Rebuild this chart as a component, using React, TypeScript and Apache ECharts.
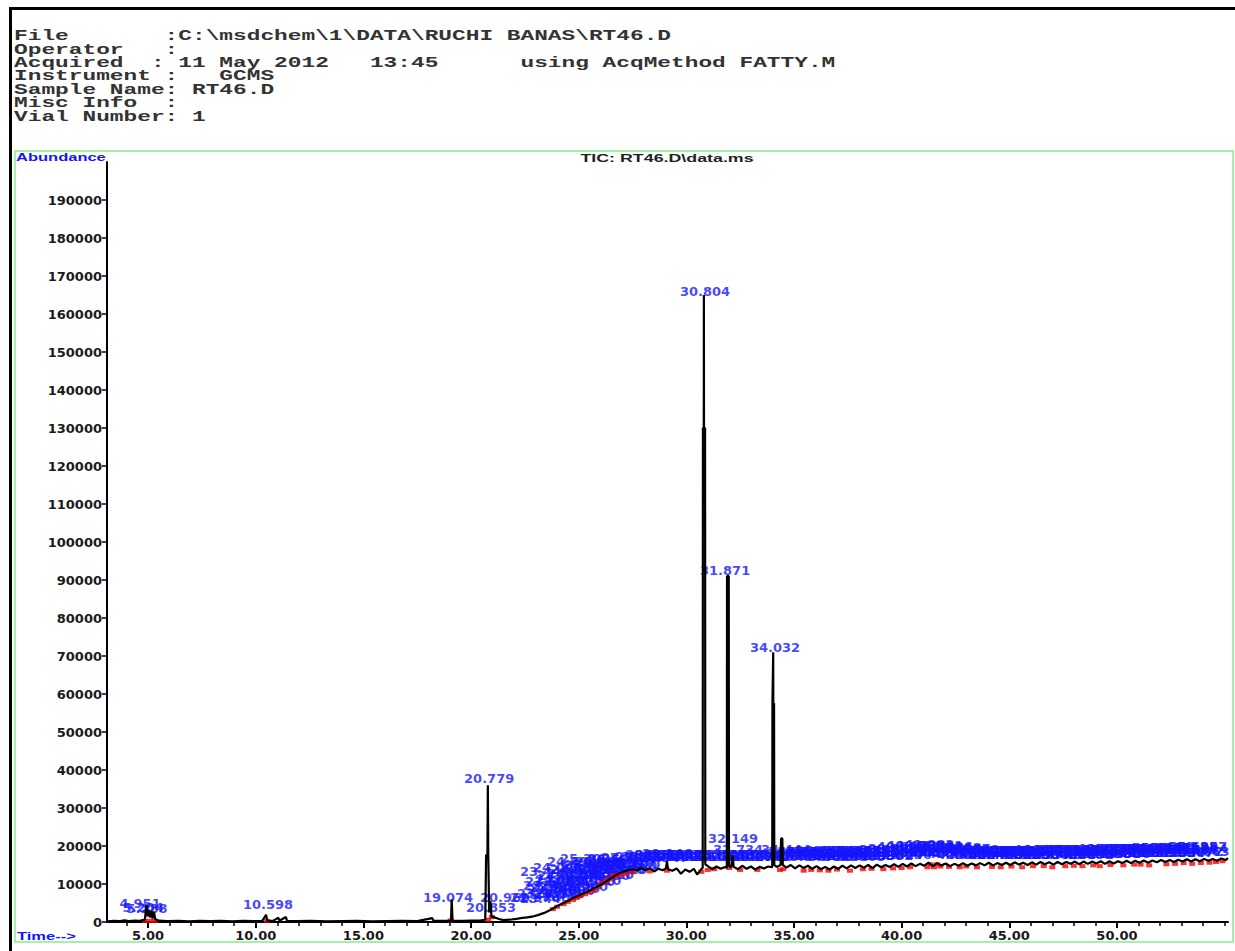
import React, { useEffect, useRef } from "react";
import * as echarts from "echarts";

const headerLines = [
  "File       :C:\\msdchem\\1\\DATA\\RUCHI BANAS\\RT46.D",
  "Operator   :",
  "Acquired  : 11 May 2012   13:45      using AcqMethod FATTY.M",
  "Instrument :   GCMS",
  "Sample Name: RT46.D",
  "Misc Info  :",
  "Vial Number: 1",
];

const chartTitle = "TIC: RT46.D\\data.ms";
const yAxisName = "Abundance";
const xAxisName = "Time-->";

const xMin = 3.09;
const xMax = 55.16;
const yMax = 200000;
const xMajorTicks = [5, 10, 15, 20, 25, 30, 35, 40, 45, 50];
const xMinorTicks = [4, 5, 6, 7, 8, 9, 10, 11, 12, 13, 14, 15, 16, 17, 18, 19, 20, 21, 22, 23, 24, 25, 26, 27, 28, 29, 30, 31, 32, 33, 34, 35, 36, 37, 38, 39, 40, 41, 42, 43, 44, 45, 46, 47, 48, 49, 50, 51, 52, 53, 54, 55];
const yTicks = [0, 10000, 20000, 30000, 40000, 50000, 60000, 70000, 80000, 90000, 100000, 110000, 120000, 130000, 140000, 150000, 160000, 170000, 180000, 190000];

// Total ion chromatogram [time (min), abundance]
const ticTrace: [number, number][] = [
  [3.09, 200], [3.4, 300], [3.7, 250], [3.9, 450], [4.1, 250], [4.4, 350], [4.6, 300], [4.85, 600], [4.92, 4500], [4.97, 1500],
  [5.02, 3200], [5.08, 1200], [5.15, 2900], [5.2, 900], [5.27, 2700], [5.33, 700], [5.5, 350], [5.9, 250], [6.4, 300], [6.9, 200],
  [7.4, 300], [7.9, 250], [8.4, 300], [8.9, 200], [9.4, 300], [9.9, 250], [10.3, 300], [10.48, 1900], [10.53, 400], [10.8, 300],
  [11.05, 1100], [11.1, 350], [11.4, 1300], [11.45, 300], [11.9, 250], [12.6, 300], [13.3, 200], [14.0, 250], [14.7, 300], [15.4, 200],
  [16.1, 250], [16.8, 300], [17.5, 250], [18.2, 1000], [18.26, 300], [18.7, 300], [19.07, 300], [19.1, 6000], [19.14, 400], [19.6, 300],
  [20.0, 350], [20.4, 400], [20.66, 600], [20.7, 17600], [20.76, 17600], [20.78, 36000], [20.8, 17600], [20.84, 2500], [20.9, 5500], [20.95, 1400],
  [21.1, 1200], [21.3, 800], [21.5, 500], [21.8, 600], [22.1, 800], [22.3, 1000], [22.6, 1200], [22.9, 1500], [23.1, 1800], [23.4, 2400],
  [23.7, 3200], [24.0, 4200], [24.3, 5000], [24.55, 5700], [24.75, 6300], [25.0, 7000], [25.2, 7500], [25.4, 7900], [25.7, 8900], [26.0, 9700],
  [26.25, 10600], [26.5, 11500], [26.7, 12200], [26.9, 12900], [27.2, 13500], [27.5, 13900], [27.7, 13500], [27.9, 14200], [28.1, 13600], [28.3, 14100],
  [28.5, 13300], [28.7, 14000], [28.9, 13600], [29.05, 14100], [29.1, 16000], [29.15, 13900], [29.35, 13500], [29.55, 14100], [29.75, 12700], [29.95, 13800],
  [30.15, 13200], [30.35, 14000], [30.5, 12500], [30.65, 13600], [30.76, 14300], [30.77, 130000], [30.81, 130000], [30.815, 165000], [30.82, 130000], [30.87, 130000],
  [30.88, 15200], [31.0, 14700], [31.2, 13900], [31.4, 14600], [31.6, 14000], [31.8, 14500], [31.88, 14200], [31.89, 91000], [31.97, 91000], [31.98, 14800],
  [32.08, 14400], [32.15, 17500], [32.2, 14500], [32.4, 13900], [32.6, 14800], [32.8, 14000], [33.0, 14600], [33.2, 13800], [33.4, 14500],
  [33.6, 14100], [33.8, 14600], [33.99, 14400], [34.0, 57500], [34.03, 57500], [34.035, 71000], [34.04, 57500], [34.075, 57500], [34.085, 15000], [34.2, 14500],
  [34.38, 15000], [34.4, 22000], [34.46, 22000], [34.48, 15000], [34.65, 14300], [34.85, 15000], [35.05, 14100], [35.25, 14900], [35.45, 14200], [35.65, 14800],
  [35.85, 14000], [36.05, 14700], [36.25, 13900], [36.45, 14500], [36.65, 13800], [36.85, 14600], [37.05, 14000], [37.25, 14800], [37.45, 14100], [37.65, 14900],
  [37.85, 14200], [38.05, 14900], [38.25, 14300], [38.45, 15000], [38.65, 14200], [38.85, 15100], [39.05, 14400], [39.25, 15000], [39.45, 14500], [39.65, 15200],
  [39.85, 14500], [40.05, 15300], [40.25, 14600], [40.45, 15400], [40.65, 14700], [40.85, 15300], [41.05, 14800], [41.25, 15600], [41.45, 14700], [41.65, 15500],
  [41.85, 14900], [42.05, 15400], [42.25, 14700], [42.45, 15300], [42.65, 14800], [42.85, 15500], [43.05, 14800], [43.25, 15400], [43.45, 14900], [43.65, 15500],
  [43.85, 14900], [44.05, 15600], [44.25, 14900], [44.45, 15500], [44.65, 15000], [44.85, 15600], [45.05, 15000], [45.25, 15700], [45.45, 15100], [45.65, 15600],
  [45.85, 15000], [46.05, 15700], [46.25, 15100], [46.45, 15800], [46.65, 15200], [46.85, 15700], [47.05, 15100], [47.25, 15800], [47.45, 15200], [47.65, 15800],
  [47.85, 15300], [48.05, 15900], [48.25, 15200], [48.45, 15900], [48.65, 15300], [48.85, 15900], [49.05, 15400], [49.25, 16000], [49.45, 15300], [49.65, 16000],
  [49.85, 15400], [50.05, 16000], [50.25, 15500], [50.45, 16100], [50.65, 15500], [50.85, 16100], [51.05, 15600], [51.25, 16200], [51.45, 15600], [51.65, 16200],
  [51.85, 15700], [52.05, 16300], [52.25, 15800], [52.45, 16300], [52.65, 15800], [52.85, 16400], [53.05, 15900], [53.25, 16500], [53.45, 15900], [53.65, 16500],
  [53.85, 16000], [54.05, 16600], [54.25, 16100], [54.45, 16600], [54.65, 16100], [54.85, 16700], [55.05, 16300], [55.16, 16800],
];

// Legible peak labels: [label anchor time, label anchor abundance, text]
const peakLabels: [number, number, string][] = [
  [4.63, 2900, "4.951"], [4.77, 1800, "5.204"], [4.95, 1600, "5.288"], [10.57, 2600, "10.598"],
  [18.93, 4500, "19.074"], [21.58, 4500, "20.960"], [20.93, 1800, "20.853"], [20.84, 35800, "20.779"],
  [29.11, 16000, "29.146"], [30.87, 164000, "30.804"], [31.80, 90500, "31.871"], [32.17, 20000, "32.149"],
  [32.40, 17100, "32.734"], [34.63, 17100, "34.444"], [34.12, 70300, "34.032"],
];

// Crowded minor-peak labels (retention time, label anchor abundance)
const minorPeakTimes = [
  23.44, 24.04, 24.60, 25.20, 25.81, 26.41, 27.02, 27.62,
  23.67, 24.23, 24.83, 25.44, 25.99, 26.60, 27.20, 27.85,
  23.90, 24.51, 25.07, 25.62, 26.23, 26.83,
  23.30, 23.76, 24.37, 24.97, 25.53, 26.13, 26.74, 27.34,
  23.44, 24.04, 24.69, 25.30,
  22.97, 23.58, 24.14, 24.69, 25.30, 25.90, 26.55, 24.14, 24.83, 25.53, 26.23, 26.92, 27.48,
  28.114, 28.562, 28.947, 29.389, 29.801, 30.236, 31.105, 31.516, 32.402, 32.867, 33.294, 33.711, 34.695, 35.103, 35.548, 35.962,
  36.401, 36.829, 37.244, 37.687, 38.105, 38.533, 38.958, 39.372, 39.814, 40.236, 40.661, 41.087, 41.509, 41.932, 42.355, 42.781,
  43.198, 43.624, 44.047, 44.466, 44.893, 45.312, 45.739, 46.158, 46.584, 47.003, 47.427, 47.851, 48.274, 48.692, 49.118, 49.543,
  49.961, 50.386, 50.812, 51.234, 51.657, 52.079, 52.503, 52.928, 53.347, 53.772, 54.063,
  28.331, 28.752, 29.164, 29.597, 30.018, 30.452, 31.311, 31.728, 32.614, 33.078, 33.502, 33.914,
  34.884, 35.326, 35.757, 36.183, 36.612, 37.036, 37.463, 37.894, 38.318, 38.741, 39.166, 39.589,
  40.027, 40.449, 40.874, 41.296, 41.718, 42.143, 42.568, 42.992,
  43.411, 43.836, 44.257, 44.681, 45.104, 45.527, 45.948, 46.371, 46.795, 47.215, 47.639, 48.062, 48.483, 48.905, 49.331, 49.752,
  50.174, 50.598, 51.023, 51.446, 51.869, 52.291, 52.716, 53.138, 53.561, 53.984,
  34.962, 35.381, 35.804, 36.217, 36.643, 37.061, 37.486, 37.902, 38.327, 38.748, 39.169, 39.593, 40.012, 40.438, 40.857, 41.283,
  41.701, 42.126, 42.548, 42.967, 43.392, 43.811, 44.236, 44.657, 45.081, 45.503, 45.926, 46.347, 46.772, 47.191, 47.616, 48.038,
  48.461, 48.883, 49.307, 49.729, 50.154, 50.576, 50.998, 51.421, 51.846, 52.267, 52.691, 53.113, 53.538, 53.957,
];
const minorPeakAbund = [
  4200, 5300, 6300, 7400, 9000, 10600, 11900, 13200,
  8700, 10300, 11900, 13200, 14000, 14800, 15000, 15300,
  7100, 8700, 10000, 11100, 12400, 13400,
  5500, 6600, 7600, 9200, 10500, 11800, 12900, 13700,
  11300, 12400, 13900, 14700,
  4500, 7600, 9200, 10800, 12400, 13400, 14500, 5500, 6800, 8700, 10300, 11800, 12900,
  15200, 15300, 15100, 15300, 15200, 15300, 15200, 15300, 15200, 15300, 15200, 15300, 15400, 15400, 15300, 15400,
  15400, 15300, 15400, 15400, 15300, 15400, 15500, 15500, 15700, 15800, 16200, 16600, 16700, 16500, 16100, 15900,
  15800, 15800, 15700, 15800, 15800, 15800, 15700, 15800, 15800, 15900, 15900, 15900, 16000, 15900, 16000, 16000,
  16100, 16100, 16200, 16200, 16300, 16300, 16300, 16400, 16400, 16500, 16500,
  15800, 15700, 15800, 15700, 15800, 15700, 15800, 15700, 15800, 15700, 15800, 15700,
  16000, 16100, 16000, 16100, 16100, 16200, 16100, 16200, 16200, 16300, 16300, 16400,
  16700, 17000, 17300, 17500, 17600, 17300, 17000, 16800,
  16500, 16400, 16400, 16500, 16400, 16500, 16500, 16500, 16600, 16600, 16600, 16700, 16600, 16700, 16700, 16800,
  16800, 16900, 16900, 17000, 17000, 17100, 17100, 17200, 17200, 17300,
  16600, 16700, 16700, 16800, 16700, 16800, 16800, 16900, 16800, 16900, 17000, 17300, 17800, 18100, 18200, 18300,
  18200, 17900, 17600, 17300, 17100, 16900, 16900, 16800, 16900, 16900, 16900, 17000, 17000, 17100, 17100, 17100,
  17200, 17200, 17300, 17300, 17400, 17400, 17500, 17500, 17600, 17600, 17700, 17700, 17800, 17800,
];

// Red integration marks [time, abundance]
const integrationMarks: [number, number][] = [
  [4.85, 300], [5.08, 300], [5.32, 300], [10.53, 300], [19.05, 400], [20.8, 600], [20.97, 1300],
  [23.8, 3400], [24.0, 4000], [24.3, 4700], [24.5, 5300], [24.74, 5800], [24.9, 6300], [25.07, 6800], [25.3, 7300], [25.5, 7900],
  [25.67, 8400], [25.9, 9200], [26.05, 10200], [26.2, 10400], [26.32, 11000], [26.45, 11200], [26.6, 12300], [26.75, 12000],
  [26.9, 12600], [27.15, 12600], [27.5, 13100], [28.3, 13300], [29.1, 13500], [30.7, 13200], [31.0, 13700], [31.3, 13900],
  [32.0, 14200], [32.5, 13700], [33.3, 13700], [34.35, 13700], [34.5, 13900], [35.45, 13500], [35.8, 13700], [36.2, 13600],
  [36.6, 13500], [37.0, 13800], [37.6, 13500], [38.2, 13900], [38.6, 14000], [39.15, 13900], [39.6, 14100], [40.0, 14200],
  [40.4, 14400], [41.2, 14400], [41.35, 15200], [41.5, 14400], [41.65, 15200], [41.8, 14600], [42.2, 14500], [42.7, 14400],
  [43.0, 14600], [43.5, 14400], [44.2, 14500], [44.6, 14400], [45.1, 14600], [45.6, 14400], [46.1, 14700], [46.6, 14700],
  [47.0, 14400], [47.6, 14700], [48.0, 14800], [48.4, 14700], [48.9, 14900], [49.2, 14700], [49.7, 15000], [50.3, 14900],
  [50.8, 15100], [51.1, 15100], [51.5, 14900], [52.3, 15200], [52.7, 15300], [53.1, 15500], [53.5, 15300], [53.9, 15500],
  [54.3, 15600], [54.6, 15800], [54.9, 16000],
];

const BLUE = "#1414ff";
const LABEL_FONT = "DejaVu Sans";

export default function App() {
  const ref = useRef<HTMLDivElement>(null);
  useEffect(() => {
    if (!ref.current) return;
    const chart = echarts.init(ref.current, null, { renderer: "svg" });

    const labelData = [
      ...minorPeakTimes.map((t, i) => ({ value: [t, minorPeakAbund[i]], name: t.toFixed(3) })),
      ...peakLabels.map(([t, a, s]) => ({ value: [t, a], name: s })),
    ];

    const headerGraphics = headerLines.map((line, i) => ({
      type: "text",
      x: 14,
      y: 36.5 + i * 13.4,
      scaleX: 1.63,
      silent: true,
      style: {
        text: line,
        fontFamily: "Liberation Mono",
        fontSize: 14,
        fontWeight: "bold",
        fill: "#333",
        align: "left",
        verticalAlign: "middle",
      },
    }));

    chart.setOption({
      animation: false,
      backgroundColor: "#ffffff",
      grid: { left: 107, right: 7, top: 162, bottom: 29, containLabel: false },
      xAxis: [
        {
          type: "value",
          min: xMin,
          max: xMax,
          position: "bottom",
          axisLine: { show: true, lineStyle: { color: "#000", width: 2 } },
          axisTick: { show: true, customValues: xMinorTicks, length: 4, lineStyle: { color: "#000", width: 1.5 } },
          axisLabel: { show: false },
          splitLine: { show: false },
        },
        {
          type: "value",
          min: xMin,
          max: xMax,
          position: "bottom",
          axisLine: { show: false },
          axisTick: { show: true, customValues: xMajorTicks, length: 6, lineStyle: { color: "#000", width: 2 } },
          axisLabel: {
            show: true,
            customValues: xMajorTicks,
            formatter: (v: number) => v.toFixed(2),
            margin: 7,
            color: "#1a1a1a",
            fontFamily: LABEL_FONT,
            fontWeight: "bold",
            fontSize: 13,
          },
          splitLine: { show: false },
        },
      ],
      yAxis: {
        type: "value",
        min: 0,
        max: yMax,
        axisLine: { show: true, lineStyle: { color: "#000", width: 2 } },
        axisTick: { show: true, customValues: yTicks, length: 5, lineStyle: { color: "#000", width: 1.5 } },
        axisLabel: {
          show: true,
          customValues: yTicks,
          formatter: (v: number) => String(v),
          margin: 5,
          color: "#1a1a1a",
          fontFamily: LABEL_FONT,
          fontWeight: "bold",
          fontSize: 13,
        },
        splitLine: { show: false },
      },
      graphic: [
        { type: "rect", silent: true, shape: { x: 9, y: 7, width: 1226, height: 3 }, style: { fill: "#000" } },
        { type: "rect", silent: true, shape: { x: 9, y: 7, width: 3, height: 944 }, style: { fill: "#000" } },
        { type: "rect", silent: true, shape: { x: 15, y: 151, width: 1218, height: 791 }, style: { fill: "none", stroke: "#a4f0a4", lineWidth: 2 } },
        ...headerGraphics,
        {
          type: "text", x: 16, y: 157, scaleX: 1.5, silent: true,
          style: { text: yAxisName, fontFamily: "Liberation Sans", fontSize: 11, fontWeight: "bold", fill: BLUE, align: "left", verticalAlign: "middle" },
        },
        {
          type: "text", x: 667, y: 158, scaleX: 1.62, silent: true,
          style: { text: chartTitle, fontFamily: "Liberation Sans", fontSize: 11, fontWeight: "bold", fill: "#222", align: "center", verticalAlign: "middle" },
        },
        {
          type: "text", x: 17, y: 936, scaleX: 1.5, silent: true,
          style: { text: xAxisName, fontFamily: "Liberation Sans", fontSize: 11, fontWeight: "bold", fill: BLUE, align: "left", verticalAlign: "middle" },
        },
      ],
      series: [
        {
          type: "scatter",
          name: "labels",
          z: 1,
          silent: true,
          symbol: "circle",
          symbolSize: 0,
          itemStyle: { color: "transparent" },
          data: labelData,
          label: {
            show: true,
            position: "top",
            distance: 1,
            formatter: "{b}",
            color: BLUE,
            fontFamily: LABEL_FONT,
            fontWeight: "bold",
            fontSize: 13,
          },
          labelLayout: { hideOverlap: false },
        },
        {
          type: "scatter",
          name: "integration",
          z: 2,
          silent: true,
          symbol: "rect",
          symbolSize: [6, 4],
          itemStyle: { color: "#ff0000" },
          data: integrationMarks,
        },
        {
          type: "line",
          name: "TIC",
          z: 3,
          silent: true,
          showSymbol: false,
          symbol: "none",
          lineStyle: { color: "#000", width: 2.2 },
          data: ticTrace,
        },
      ],
    });
    return () => chart.dispose();
  }, []);
  return (
    <div
      ref={ref}
      style={{ position: "absolute", left: 0, top: 0, width: 1235, height: 951, background: "#fff" }}
    />
  );
}
